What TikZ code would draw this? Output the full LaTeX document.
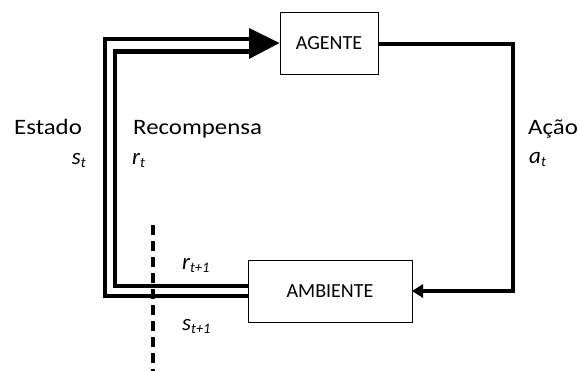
\documentclass[tikz,border=0pt]{standalone}
\usepackage{fontspec}
\setmainfont{Carlito}
\usetikzlibrary{arrows.meta}
\newcommand{\varsub}[2]{{\fontsize{23}{23}\selectfont\itshape #1}\raisebox{-3.5pt}{\fontsize{14.5}{14.5}\selectfont\itshape #2}}
\newcommand{\widetext}[1]{\scalebox{1.13}[1]{#1}}
\begin{document}
\begin{tikzpicture}[x=1pt,y=-1pt,
  box/.style={draw,line width=1pt,inner sep=0pt,font=\fontsize{20}{20}\selectfont},
  label/.style={inner sep=0pt,font=\fontsize{22}{22}\selectfont},
  thick line/.style={line width=4.4pt},
  action/.style={line width=3.5pt,-{Triangle[length=11pt,width=13pt]},shorten >=-0.5pt},
  cut/.style={line width=3.5pt,dash pattern=on 10pt off 6pt}]
\useasboundingbox (0,0) rectangle (579,370);
\node[box,minimum width=98pt,minimum height=62pt] (agent) at (329,43) {AGENTE};
\node[box,minimum width=164pt,minimum height=62pt] (env) at (330,291) {AMBIENTE};
% double signal path
\coordinate (tipbase) at (249,43.5);
\draw[thick line] (env.west |- 0,296.2) -| (105,39) -- (tipbase |- 0,39);
\draw[thick line] (env.west |- 0,285.8) -| (115,51.5) -- (tipbase |- 0,51.5);
\fill (tipbase |- 0,28) -- (agent.west) -- (tipbase |- 0,59) -- cycle;
% action
\coordinate (corner) at (513,44);
\draw[action] (agent.east |- corner) -- (corner) |- (env.east);
% dashed cut
\coordinate (cuttop) at (153,225);
\coordinate (cutbot) at (153,372);
\draw[cut] (cuttop) -- (cutbot);
% labels
\node[label,anchor=base west] (estado) at (14,134) {\widetext{Estado}};
\node[label,anchor=base east] (st) at (86,164) {\varsub{s}{t}};
\node[label,anchor=base west] (recomp) at (133,134) {\widetext{Recompensa}};
\node[label,anchor=base west] (rt) at (132,164) {\varsub{r}{t}};
\node[label,anchor=base west] (acao) at (528,134) {\widetext{Ação}};
\node[label,anchor=base west] (at) at (529,163) {\varsub{a}{t}};
\node[label,anchor=base west] (rt1) at (182,269) {\varsub{r}{t+1}};
\node[label,anchor=base west] (st1) at (182,330) {\varsub{s}{t+1}};
\end{tikzpicture}
\end{document}
